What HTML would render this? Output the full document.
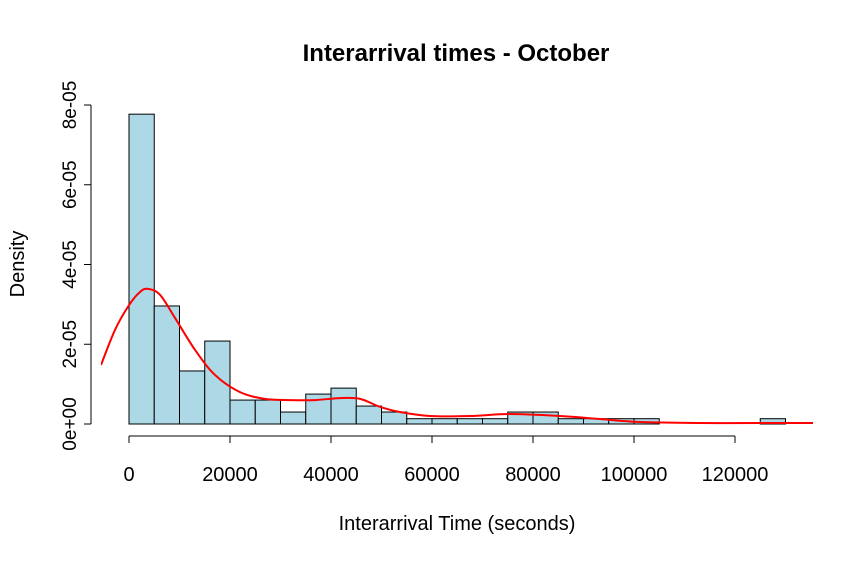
<!DOCTYPE html>
<html><head><meta charset="utf-8"><style>
body{margin:0;background:#fff}
text{font-family:"Liberation Sans",Arial,sans-serif;fill:#000}
</style></head><body>
<svg id="chart" width="865" height="564" xmlns="http://www.w3.org/2000/svg">
<rect width="865" height="564" fill="#fff"/>
<text x="456" y="61" font-size="24" font-weight="bold" text-anchor="middle">Interarrival times - October</text>
<text x="457" y="530" font-size="20" text-anchor="middle">Interarrival Time (seconds)</text>
<text transform="translate(24,264) rotate(-90)" font-size="20" text-anchor="middle">Density</text>
<defs><clipPath id="plotclip"><rect x="101" y="80" width="712" height="360"/></clipPath></defs>
<g id="bars"></g><g id="axes"></g>
<path id="dens" fill="none" stroke="#ff0000" stroke-width="2" clip-path="url(#plotclip)"/>
</svg>
<script>
const binStart = [0,5000,10000,15000,20000,25000,30000,35000,40000,45000,50000,55000,60000,65000,70000,75000,80000,85000,90000,95000,100000,105000,110000,115000,120000,125000];
const binDensity = [7.77e-5,2.96e-5,1.33e-5,2.08e-5,0.6e-5,0.6e-5,0.3e-5,0.75e-5,0.9e-5,0.45e-5,0.3e-5,0.133e-5,0.133e-5,0.133e-5,0.133e-5,0.3e-5,0.3e-5,0.133e-5,0.133e-5,0.133e-5,0.133e-5,0,0,0,0,0.133e-5];
const binWidth = 5000;
const densX = [-5545,-2772,0,2178,3762,6139,9109,13069,17030,21980,26931,31881,36832,41782,45743,49703,53663,59604,67525,75446,85347,93267,101188,113069,124950,135446];
const densY = [1.48e-5,2.36e-5,2.98e-5,3.31e-5,3.39e-5,3.24e-5,2.66e-5,1.86e-5,1.23e-5,0.80e-5,0.63e-5,0.60e-5,0.60e-5,0.65e-5,0.63e-5,0.43e-5,0.30e-5,0.20e-5,0.20e-5,0.25e-5,0.20e-5,0.125e-5,0.05e-5,0.025e-5,0.025e-5,0.025e-5];
const xTicks = [0,20000,40000,60000,80000,100000,120000];
const yTicks = [0,2e-5,4e-5,6e-5,8e-5];
const yTickLabels = ["0e+00","2e-05","4e-05","6e-05","8e-05"];
const NS="http://www.w3.org/2000/svg";
const X = v => 129 + v*(606/120000);
const Y = v => 424 - v*(319/8e-5);
const bars = document.getElementById('bars');
binStart.forEach((b,i)=>{
  if(binDensity[i]<=0) return;
  const r=document.createElementNS(NS,'rect');
  
  
  r.setAttribute('x',X(b));r.setAttribute('y',Y(binDensity[i]));
  r.setAttribute('width',X(b+binWidth)-X(b));r.setAttribute('height',Y(0)-Y(binDensity[i]));
  r.setAttribute('fill','#add8e6');r.setAttribute('stroke','#000');r.setAttribute('stroke-width','1');
  bars.appendChild(r);
});
const P = densX.map((x,i)=>[X(x),Y(densY[i])]);
let d='M'+P[0][0]+','+P[0][1];
for(let i=0;i<P.length-1;i++){
  const p0=P[Math.max(0,i-1)],p1=P[i],p2=P[i+1],p3=P[Math.min(P.length-1,i+2)];
  const c1=[p1[0]+(p2[0]-p0[0])/6,p1[1]+(p2[1]-p0[1])/6];
  const c2=[p2[0]-(p3[0]-p1[0])/6,p2[1]-(p3[1]-p1[1])/6];
  d+='C'+c1[0]+','+c1[1]+' '+c2[0]+','+c2[1]+' '+p2[0]+','+p2[1];
}
document.getElementById('dens').setAttribute('d', d);
const ax=document.getElementById('axes');
function line(x1,y1,x2,y2,name){const l=document.createElementNS(NS,'line');
  
  
  l.setAttribute('x1',x1);l.setAttribute('y1',y1);l.setAttribute('x2',x2);l.setAttribute('y2',y2);l.setAttribute('stroke','#000');ax.appendChild(l);}
line(X(xTicks[0]),436,X(xTicks[xTicks.length-1]),436,'x-axis-line');
xTicks.forEach(t=>{line(X(t),436,X(t),443,'x-tick');
  const tx=document.createElementNS(NS,'text');
  
  
  tx.setAttribute('x',X(t));tx.setAttribute('y',481);tx.setAttribute('font-size','20');tx.setAttribute('text-anchor','middle');tx.textContent=t;ax.appendChild(tx);});
line(91,Y(yTicks[0]),91,Y(yTicks[yTicks.length-1]),'y-axis-line');
yTicks.forEach((t,i)=>{line(84,Y(t),91,Y(t),'y-tick');
  const tx=document.createElementNS(NS,'text');
  
  
  tx.setAttribute('transform','translate(76,'+Y(t)+') rotate(-90)');tx.setAttribute('font-size','19');tx.setAttribute('text-anchor','middle');tx.textContent=yTickLabels[i];ax.appendChild(tx);});
</script>
</body></html>
